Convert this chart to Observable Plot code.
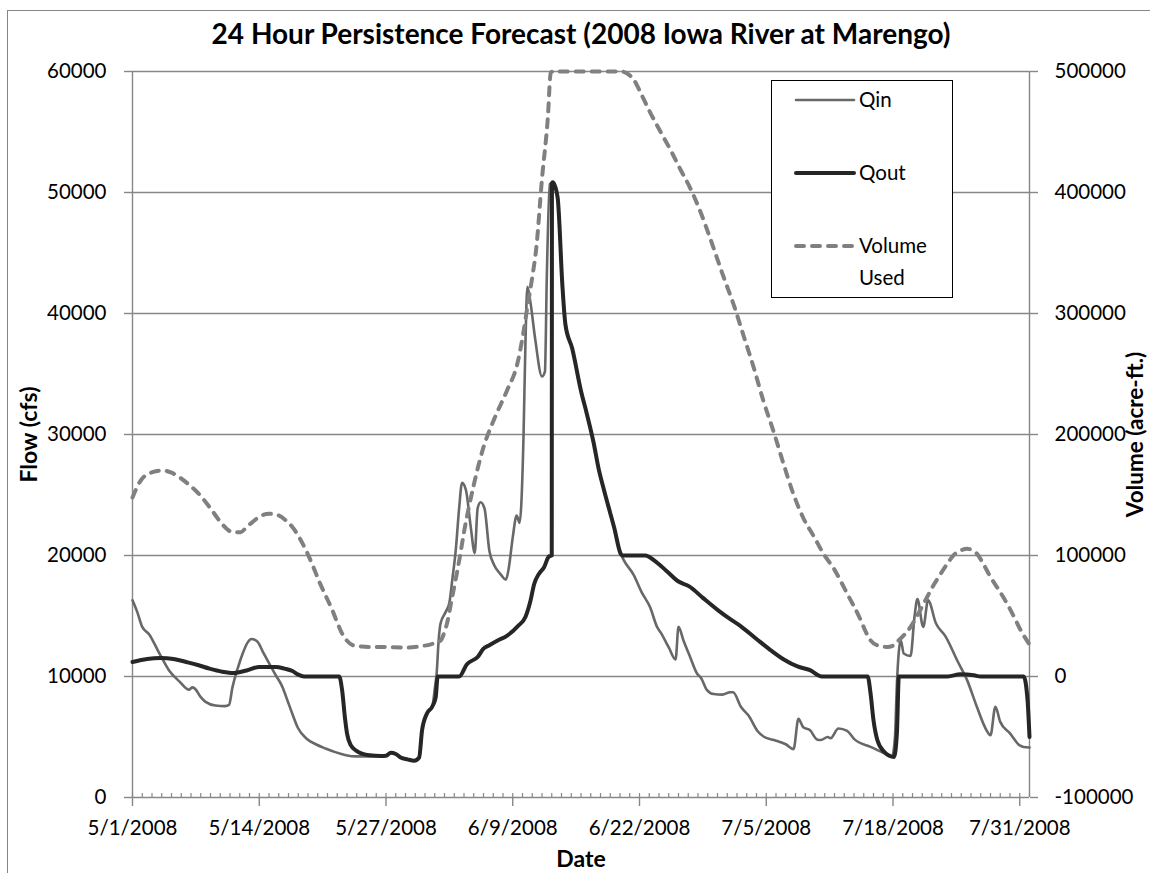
<!DOCTYPE html>
<html>
<head>
<meta charset="utf-8">
<script src="https://cdn.jsdelivr.net/npm/d3@7"></script>
<script src="https://cdn.jsdelivr.net/npm/@observablehq/plot@0.6"></script>
<style>
  html, body { margin: 0; padding: 0; background: #fff; overflow: hidden; }
  #wrap { position: relative; width: 1150px; height: 873px; overflow: hidden; }
  #border { position: absolute; left: 7px; top: 10px; width: 1170px; height: 900px; border: 1px solid #868686; box-sizing: border-box; pointer-events: none; }
  #legend { position: absolute; left: 771px; top: 80px; width: 182px; height: 218px; background: #fff; border: 1.5px solid #000; box-sizing: border-box; font-family: Lato, "Open Sans", sans-serif; font-size: 20px; }
  #legend svg { position: absolute; left: 0; top: 0; }
</style>
</head>
<body>
<div id="wrap">
  <div id="chart"></div>
  <div id="border"></div>
  <div id="legend"></div>
</div>
<script>
// ---- Data (day offset from 5/1/2008, value) ----
const qinDay  = [0,0.5,1.0,1.7,2.7,3.75,4.8,5.8,6.1,6.4,7.0,7.5,8.5,9.5,9.9,10.25,10.8,11.3,11.8,12.2,12.8,13.4,14.0,14.7,15.4,15.9,16.4,17.0,17.8,18.8,19.8,20.8,21.9,22.9,24.3,25.5,26.0,26.5,27.0,27.5,28.5,28.9,29.4,29.7,30.2,30.75,31.0,31.2,31.4,31.6,32.1,32.5,32.8,33.15,33.5,33.8,34.2,34.7,35.1,35.4,35.7,36.1,36.6,37.1,37.7,38.3,38.6,39.0,39.4,39.7,40.1,40.3,40.5,40.8,41.3,42.0,42.3,42.5,42.8,43.1,43.6,44.1,44.4,45.1,46.0,46.6,47.3,47.8,48.35,49.0,49.4,50.1,50.4,51.4,52.2,53.1,53.8,54.2,55.0,55.7,56.0,56.5,57.2,57.9,58.3,58.9,59.6,60.5,61.3,61.6,62.4,63.2,64.1,64.8,65.8,67.0,67.8,68.3,68.8,69.5,70.2,70.6,71.3,71.6,72.4,73.3,74.0,75.7,77.0,77.9,78.2,78.4,78.8,79.1,79.8,80.2,80.5,81.1,81.6,82.4,83.4,84.6,85.6,86.6,87.5,88.0,88.5,89.0,90.0,91.0,91.4,92.0];
const qinFlow = [16300,15300,14100,13500,12000,10500,9600,8900,9100,9000,8300,7900,7600,7550,7650,9100,10700,11900,12800,13100,12900,12000,11100,10100,9100,8000,6900,5700,4900,4400,4050,3750,3500,3400,3400,3430,3500,3700,3600,3350,3100,3050,3300,5500,6900,7500,9000,10300,13000,14400,15300,16100,18000,20400,23900,26000,25400,22300,20200,23900,24400,23900,20400,19200,18500,18000,19000,21500,23300,22700,29700,37500,42200,41000,37900,34800,35200,43300,50700,50800,49600,42200,39100,37100,33600,31700,29300,27200,25400,23500,22300,20100,19600,18400,17000,15700,14100,13600,12400,11400,14100,13000,11600,10250,9900,8900,8550,8500,8700,8700,7500,6750,5500,5000,4750,4400,4000,6500,5800,5550,4800,4750,5000,4900,5700,5500,4850,4180,3700,3400,5000,9400,13000,11900,11700,14900,16400,14100,16300,14400,13300,11300,9700,7500,5700,5150,7500,6250,5300,4300,4180,4130];

const qoutDay  = [0,1.5,2.9,4.2,5.5,6.7,7.9,9.2,10.4,11.7,13.0,14.7,15.6,16.4,17.0,17.6,21.2,21.5,21.8,22.0,22.4,22.9,24.3,25.5,26.0,26.5,27.0,27.5,28.2,28.9,29.4,29.7,30.2,30.75,31.1,31.3,33.5,34.3,35.4,36.0,36.6,37.5,38.4,39.5,40.3,40.8,41.2,41.7,42.2,42.7,43.0,43.02,43.1,43.6,44.1,44.4,45.1,46.0,46.6,47.3,47.8,48.35,49.0,49.4,50.1,50.3,52.6,53.5,54.8,56.0,57.1,58.5,60.0,61.2,62.4,64.0,65.4,66.8,68.2,69.5,70.7,75.4,75.7,76.0,76.4,77.1,78.1,78.4,78.6,83.6,84.9,86.3,87.0,91.4,91.8,92.0];
const qoutFlow = [11200,11450,11530,11450,11200,10950,10650,10400,10290,10500,10790,10790,10650,10450,10150,10000,10000,8860,6500,5300,4300,3900,3490,3430,3450,3700,3600,3310,3150,3040,3300,5570,6940,7520,8300,10000,10000,11020,11610,12300,12590,13000,13360,14150,14920,16200,17650,18500,19010,19910,20000,50760,50840,49600,42200,39100,37100,33600,31700,29300,27200,25440,23500,22320,20100,20000,20000,19600,18700,17850,17450,16500,15510,14800,14150,13100,12200,11400,10830,10520,10000,10000,8590,6380,4730,3770,3350,5290,10000,10000,10180,10100,10000,10000,8040,5000];

const volDay    = [0,0.85,2.05,3.1,4.0,4.8,5.8,6.8,7.9,8.9,9.6,10.25,11.1,11.7,12.3,13.1,14.0,15.0,15.8,16.4,17.1,17.8,18.5,19.1,19.8,20.5,21.0,21.5,22.0,22.6,23.5,24.6,26.0,27.5,28.2,29.5,30.6,31.6,32.0,32.3,32.7,33.15,33.6,34.0,34.5,35.0,35.5,36.0,37.1,38.4,39.5,40.0,40.5,41.0,41.4,42.0,42.6,42.9,43.1,50.1,50.8,51.4,52.2,53.1,54.1,55.2,56.2,57.2,58.3,59.3,60.5,61.7,62.7,63.7,64.7,65.8,66.8,67.8,68.8,69.9,70.9,71.9,73.3,74.7,75.2,75.7,76.5,77.4,78.0,78.4,79.1,79.8,80.7,81.5,82.2,82.9,83.6,84.2,84.9,85.6,86.1,86.6,87.3,88.0,88.9,89.7,90.4,91.1,92.0];
const volAcreFt = [148000,162000,168900,170300,168500,164700,158500,151000,140000,129000,122500,119300,119300,123500,127600,132500,134500,133100,128500,123500,115000,104200,91500,79400,67000,54700,44500,35400,29500,25800,24800,24400,24300,24000,23900,25000,26600,29700,37000,45300,62000,80400,100000,119300,140000,158300,175000,189500,212800,236200,259500,280000,305200,330000,353000,411500,462100,499100,500000,500000,498000,493300,481000,466000,451000,434900,419000,403700,383000,360900,333000,306300,281000,255700,228000,201200,175000,150500,131000,115500,101000,89500,68500,46400,37000,29900,25500,24400,25500,28500,34000,40900,53500,65700,76000,85000,93500,100100,104000,105600,104500,101500,92500,82200,71000,60200,49500,38200,26500];

const dateTickDays = [0,13,26,39,52,65,78,91];
const flowTicks = [0,10000,20000,30000,40000,50000,60000];
const volTicks = [-100000,0,100000,200000,300000,400000,500000];
const seriesNames = ["Qin","Qout","Volume Used"];

// ---- Helpers ----
const startMs = Date.UTC(2008, 4, 1);
const toDate = d => new Date(startMs + d * 864e5);
const volToFlow = v => (v + 100000) / 10;   // secondary axis mapping
const flowToVol = f => f * 10 - 100000;

const qin = qinDay.map((d, i) => ({date: toDate(d), v: qinFlow[i]}));
const qout = qoutDay.map((d, i) => ({date: toDate(d), v: qoutFlow[i]}));
const vol = volDay.map((d, i) => ({date: toDate(d), v: volToFlow(volAcreFt[i])}));
const allDays = d3.range(0, 93).map(toDate);
const fmt = d3.utcFormat("%-m/%-d/%Y");

const FONT = "Lato, 'Open Sans', sans-serif";
const grid = "#878787";

const chart = Plot.plot({
  width: 1150,
  height: 873,
  marginLeft: 132,
  marginRight: 121,
  marginTop: 71,
  marginBottom: 76,
  style: {fontFamily: FONT, fontSize: "20px", color: "#000", background: "transparent", overflow: "visible"},
  x: {type: "utc", domain: [toDate(0), toDate(92)]},
  y: {domain: [0, 60000]},
  marks: [
    Plot.ruleY(flowTicks, {stroke: grid, strokeWidth: 1.4}),
    Plot.ruleX([toDate(0), toDate(92)], {stroke: grid, strokeWidth: 1.4}),
    Plot.ruleX(allDays, {x: d => d, y1: 0, y2: 0, insetTop: -4, stroke: grid, strokeWidth: 1.2}),
    Plot.axisY(flowTicks, {anchor: "left", tickSize: 8, tickPadding: 18, tickFormat: d => String(d), fontSize: 20.5, stroke: grid, strokeWidth: 1.4, label: null}),
    Plot.axisY(volTicks.map(volToFlow), {anchor: "right", tickSize: 8, tickPadding: 17, tickFormat: d => String(Math.round(flowToVol(d))), fontSize: 20.5, stroke: grid, strokeWidth: 1.4, label: null}),
    Plot.axisX(dateTickDays.map(toDate), {anchor: "bottom", tickSize: 9, tickPadding: 14, tickFormat: fmt, fontSize: 20.5, stroke: grid, strokeWidth: 1.4, label: null}),
    Plot.line(qin, {x: "date", y: "v", stroke: "#686868", strokeWidth: 2.6, curve: "monotone-x"}),
    Plot.line(qout, {x: "date", y: "v", stroke: "#262626", strokeWidth: 4, curve: "monotone-x"}),
    Plot.line(vol, {x: "date", y: "v", stroke: "#808080", strokeWidth: 4, strokeDasharray: "8,8", strokeLinecap: "round", curve: "monotone-x"}),
    Plot.text(["24 Hour Persistence Forecast (2008 Iowa River at Marengo)"], {frameAnchor: "top", textAnchor: "middle", lineAnchor: "middle", dy: -36.5, fontSize: 28, fontWeight: "bold", fill: "#000"}),
    Plot.text(["Flow (cfs)"], {frameAnchor: "left", textAnchor: "middle", lineAnchor: "middle", dx: -103, rotate: -90, fontSize: 23, fontWeight: "bold", fill: "#000"}),
    Plot.text(["Volume (acre-ft.)"], {frameAnchor: "right", textAnchor: "middle", lineAnchor: "middle", dx: 106, rotate: -90, fontSize: 22.5, fontWeight: "bold", fill: "#000"}),
    Plot.text(["Date"], {frameAnchor: "bottom", textAnchor: "middle", lineAnchor: "middle", dy: 62, fontSize: 23, fontWeight: "bold", fill: "#000"})
  ]
});
document.getElementById("chart").appendChild(chart);

// ---- Legend ----
const lg = d3.select("#legend").append("svg").attr("width", 182).attr("height", 218);
const items = [
  {name: seriesNames[0], y: 19, stroke: "#686868", w: 2.6, dash: null},
  {name: seriesNames[1], y: 92, stroke: "#262626", w: 4, dash: null},
  {name: seriesNames[2], y: 165, stroke: "#808080", w: 4, dash: "8,8"}
];
items.forEach(it => {
  lg.append("line").attr("x1", 24).attr("x2", 82).attr("y1", it.y).attr("y2", it.y)
    .attr("stroke", it.stroke).attr("stroke-width", it.w)
    .attr("stroke-dasharray", it.dash).attr("stroke-linecap", "round");
  const words = it.name.split(" ");
  words.forEach((w, k) => {
    lg.append("text").attr("x", 87).attr("y", it.y + 7 + k * 32).text(w)
      .attr("font-family", FONT).attr("font-size", 20.5).attr("fill", "#000");
  });
});
</script>
</body>
</html>
